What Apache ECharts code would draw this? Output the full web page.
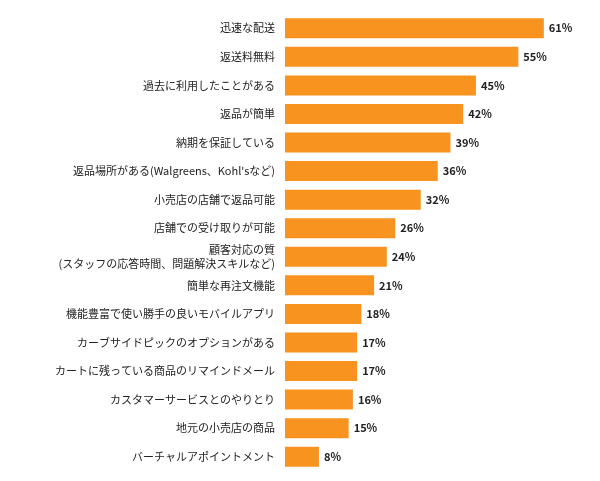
<!DOCTYPE html>
<html><head><meta charset="utf-8">
<script src="https://cdn.jsdelivr.net/npm/echarts@6/dist/echarts.min.js"></script>
<style>html,body{margin:0;background:#fff}#c{width:600px;height:481px}</style>
</head><body><div id="c"></div>
<script>
var categories = ['迅速な配送','返送料無料','過去に利用したことがある','返品が簡単','納期を保証している',
  '返品場所がある(Walgreens、Kohl\'sなど)','小売店の店舗で返品可能','店舗での受け取りが可能',
  '顧客対応の質\n(スタッフの応答時間、問題解決スキルなど)','簡単な再注文機能','機能豊富で使い勝手の良いモバイルアプリ',
  'カーブサイドピックのオプションがある','カートに残っている商品のリマインドメール','カスタマーサービスとのやりとり',
  '地元の小売店の商品','バーチャルアポイントメント'];
var values = [61,55,45,42,39,36,32,26,24,21,18,17,17,16,15,8];

var chart = echarts.init(document.getElementById('c'));
chart.setOption({
  animation: false,
  grid: {left: 285, right: 18, top: 14, bottom: 10},
  xAxis: {type: 'value', min: 0, max: 70, show: false},
  yAxis: {
    type: 'category', inverse: true, data: categories,
    axisLine: {show: false}, axisTick: {show: false},
    axisLabel: {color: '#222', fontSize: 11, margin: 10, lineHeight: 14,
      fontFamily: 'Noto Sans CJK JP'}
  },
  series: [{
    type: 'bar', data: values, barWidth: 20,
    itemStyle: {color: '#F7931E'},
    label: {show: true, position: 'right', formatter: '{c}%', color: '#222',
      fontWeight: 'bold', fontSize: 11, fontFamily: 'Noto Sans CJK JP', distance: 5}
  }]
});
</script></body></html>
